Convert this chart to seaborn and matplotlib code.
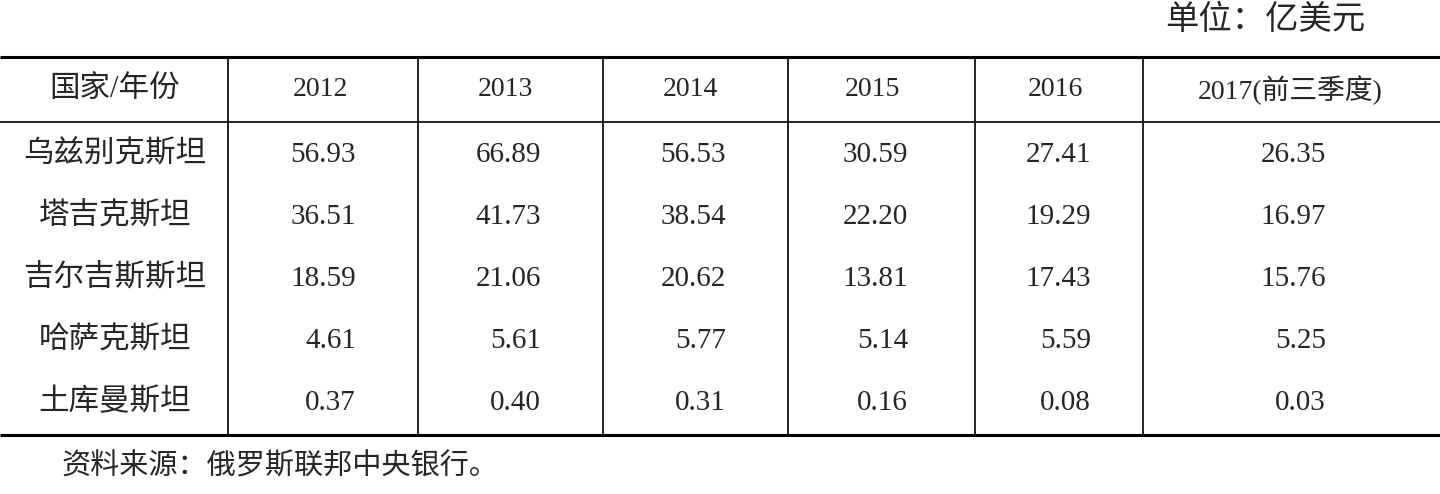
import matplotlib
matplotlib.use("Agg")
import matplotlib.pyplot as plt
import seaborn as sns

countries = ["乌兹别克斯坦", "塔吉克斯坦", "吉尔吉斯斯坦", "哈萨克斯坦", "土库曼斯坦"]
years = ["2012", "2013", "2014", "2015", "2016", "2017(前三季度)"]
v2012 = [56.93, 36.51, 18.59, 4.61, 0.37]
v2013 = [66.89, 41.73, 21.06, 5.61, 0.40]
v2014 = [56.53, 38.54, 20.62, 5.77, 0.31]
v2015 = [30.59, 22.20, 13.81, 5.14, 0.16]
v2016 = [27.41, 19.29, 17.43, 5.59, 0.08]
v2017 = [26.35, 16.97, 15.76, 5.25, 0.03]
unit_text = "单位：亿美元"
source_text = "资料来源：俄罗斯联邦中央银行。"

sns.set_theme(style="white")
plt.rcParams['font.family'] = ['Liberation Serif', 'Noto Sans CJK SC']

fig = plt.figure(figsize=(14.4, 4.94), dpi=100)
ax = fig.add_axes([0, 0, 1, 1])
ax.set_xlim(0, 1440)
ax.set_ylim(494, 0)
ax.axis("off")

fs_num = 21
fs_cjk = 22
col_x = [115, 320, 505, 690, 872, 1055, 1290]
vlines = [228, 418, 603, 788, 975, 1143]
top, head, bottom = 57, 122, 435
row_y = [155, 217, 279, 341, 403]

ax.hlines([top, bottom], 0, 1440, color="black", lw=2.2)
ax.hlines(head, 0, 1440, color="black", lw=1.2)
ax.vlines(vlines, top, bottom, color="black", lw=1.2)

ax.text(1365, 20, unit_text, ha="right", va="center", fontsize=fs_cjk + 2)
ax.text(col_x[0], 90, "国家/年份", ha="center", va="center", fontsize=fs_cjk)
for x, y in zip(col_x[1:], years):
    ax.text(x, 90, y, ha="center", va="center", fontsize=fs_num - 1)

series = [v2012, v2013, v2014, v2015, v2016, v2017]
for i, (c, y) in enumerate(zip(countries, row_y)):
    ax.text(col_x[0], y, c, ha="center", va="center", fontsize=fs_cjk)
    for x, s in zip(col_x[1:], series):
        ax.text(x + 36, y, f"{s[i]:.2f}", ha="right", va="center", fontsize=fs_num)

ax.text(62, 467, source_text, ha="left", va="center", fontsize=fs_cjk - 1)

fig.savefig("out.png", dpi=100)
